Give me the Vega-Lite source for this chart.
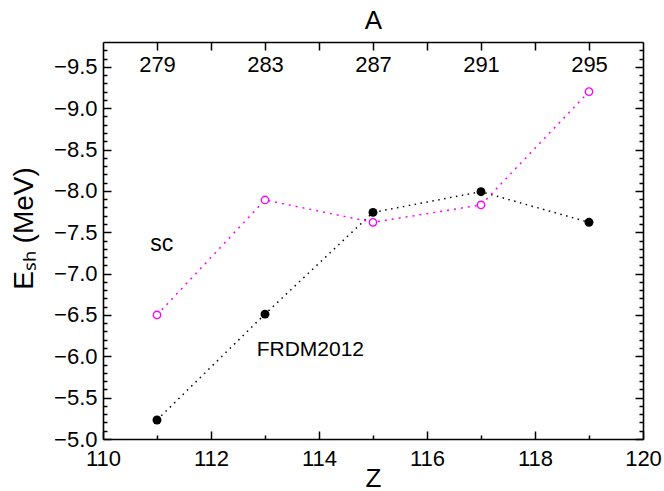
{
  "$schema": "https://vega.github.io/schema/vega-lite/v6.json",
  "width": 540,
  "height": 397,
  "autosize": "none",
  "padding": {"left": 103, "top": 42, "right": 21, "bottom": 52},
  "background": "white",
  "data": {"values": [
    {"Z": 111, "E": -5.23, "model": "FRDM2012"},
    {"Z": 113, "E": -6.51, "model": "FRDM2012"},
    {"Z": 115, "E": -7.74, "model": "FRDM2012"},
    {"Z": 117, "E": -7.99, "model": "FRDM2012"},
    {"Z": 119, "E": -7.62, "model": "FRDM2012"},
    {"Z": 111, "E": -6.50, "model": "sc"},
    {"Z": 113, "E": -7.89, "model": "sc"},
    {"Z": 115, "E": -7.62, "model": "sc"},
    {"Z": 117, "E": -7.83, "model": "sc"},
    {"Z": 119, "E": -9.20, "model": "sc"}
  ]},
  "resolve": {"axis": {"x": "independent", "y": "independent"}},
  "layer": [
    {
      "transform": [{"filter": "datum.model == 'FRDM2012'"}],
      "mark": {"type": "line", "color": "black", "strokeWidth": 1.5, "strokeDash": [1.5, 4.5]},
      "encoding": {
        "x": {"field": "Z", "type": "quantitative",
              "scale": {"domain": [110, 120], "nice": false, "zero": false},
              "axis": {"orient": "bottom", "values": [110, 112, 114, 116, 118, 120], "tickSize": -8, "labelPadding": 17, "labelFlush": false, "labelOverlap": false, "title": "Z", "titlePadding": -4}},
        "y": {"field": "E", "type": "quantitative",
              "scale": {"domain": [-9.8, -5.0], "reverse": true, "nice": false, "zero": false},
              "axis": {"orient": "left", "values": [-9.5, -9.0, -8.5, -8.0, -7.5, -7.0, -6.5, -6.0, -5.5, -5.0], "format": ".1f", "tickSize": -8, "labelPadding": 14, "labelFlush": false, "labelOverlap": false, "title": "Eₛₕ (MeV)", "titleFontSize": 28, "titleX": -71, "titleY": 186, "titleAlign": "center", "titleBaseline": "alphabetic", "titleAngle": -90}}
      }
    },
    {
      "transform": [{"filter": "datum.model == 'sc'"}],
      "mark": {"type": "line", "color": "#ff00ff", "strokeWidth": 1.5, "strokeDash": [2, 5]},
      "encoding": {
        "x": {"field": "Z", "type": "quantitative",
              "axis": {"orient": "top", "values": [111, 112, 113, 114, 115, 116, 117, 118, 119], "tickSize": -8, "labelPadding": -21, "labelBaseline": "alphabetic", "labelFlush": false, "labelOverlap": false, "labelExpr": "datum.value % 2 == 1 ? format(2 * datum.value + 57, 'd') : ''", "title": "A", "titlePadding": 8}},
        "y": {"field": "E", "type": "quantitative",
              "axis": {"orient": "right", "values": [-9.5, -9.0, -8.5, -8.0, -7.5, -7.0, -6.5, -6.0, -5.5, -5.0], "tickSize": -8, "labels": false, "title": null}}
      }
    },
    {
      "transform": [{"filter": "datum.model == 'FRDM2012'"}],
      "mark": {"type": "point", "shape": "circle", "filled": true, "color": "black", "size": 80, "opacity": 1},
      "encoding": {
        "x": {"field": "Z", "type": "quantitative",
              "axis": {"orient": "bottom", "values": [111, 113, 115, 117, 119], "tickSize": -4, "labels": false, "domain": false, "title": null}},
        "y": {"field": "E", "type": "quantitative",
              "axis": {"orient": "left", "values": [-9.7, -9.6, -9.4, -9.3, -9.2, -9.1, -8.9, -8.8, -8.7, -8.6, -8.4, -8.3, -8.2, -8.1, -7.9, -7.8, -7.7, -7.6, -7.4, -7.3, -7.2, -7.1, -6.9, -6.8, -6.7, -6.6, -6.4, -6.3, -6.2, -6.1, -5.9, -5.8, -5.7, -5.6, -5.4, -5.3, -5.2, -5.1], "tickSize": -4, "labels": false, "domain": false, "title": null}}
      }
    },
    {
      "transform": [{"filter": "datum.model == 'sc'"}],
      "mark": {"type": "point", "shape": "circle", "filled": false, "fill": "white", "fillOpacity": 1, "stroke": "#ff00ff", "strokeWidth": 1.3, "size": 55, "opacity": 1},
      "encoding": {
        "x": {"field": "Z", "type": "quantitative", "axis": null},
        "y": {"field": "E", "type": "quantitative",
              "axis": {"orient": "right", "values": [-9.7, -9.6, -9.4, -9.3, -9.2, -9.1, -8.9, -8.8, -8.7, -8.6, -8.4, -8.3, -8.2, -8.1, -7.9, -7.8, -7.7, -7.6, -7.4, -7.3, -7.2, -7.1, -6.9, -6.8, -6.7, -6.6, -6.4, -6.3, -6.2, -6.1, -5.9, -5.8, -5.7, -5.6, -5.4, -5.3, -5.2, -5.1], "tickSize": -4, "labels": false, "domain": false, "title": null}}
      }
    },
    {
      "data": {"values": [{}]},
      "mark": {"type": "text", "text": "sc", "font": "Liberation Sans", "fontSize": 23, "color": "black", "align": "center", "baseline": "alphabetic"},
      "encoding": {
        "x": {"datum": 111.09, "type": "quantitative", "axis": null},
        "y": {"datum": -7.27, "type": "quantitative", "axis": null}
      }
    },
    {
      "data": {"values": [{}]},
      "mark": {"type": "text", "text": "FRDM2012", "font": "Liberation Sans", "fontSize": 21, "color": "black", "align": "center", "baseline": "alphabetic"},
      "encoding": {
        "x": {"datum": 113.84, "type": "quantitative", "axis": null},
        "y": {"datum": -6.0, "type": "quantitative", "axis": null}
      }
    }
  ],
  "config": {
    "view": {"stroke": null},
    "axis": {
      "grid": false,
      "domainColor": "black",
      "domainWidth": 1.6,
      "tickColor": "black",
      "tickWidth": 1.5,
      "labelFont": "Liberation Sans",
      "labelFontSize": 22,
      "labelColor": "black",
      "titleFont": "Liberation Sans",
      "titleFontSize": 26,
      "titleFontWeight": "normal",
      "titleColor": "black"
    }
  }
}
